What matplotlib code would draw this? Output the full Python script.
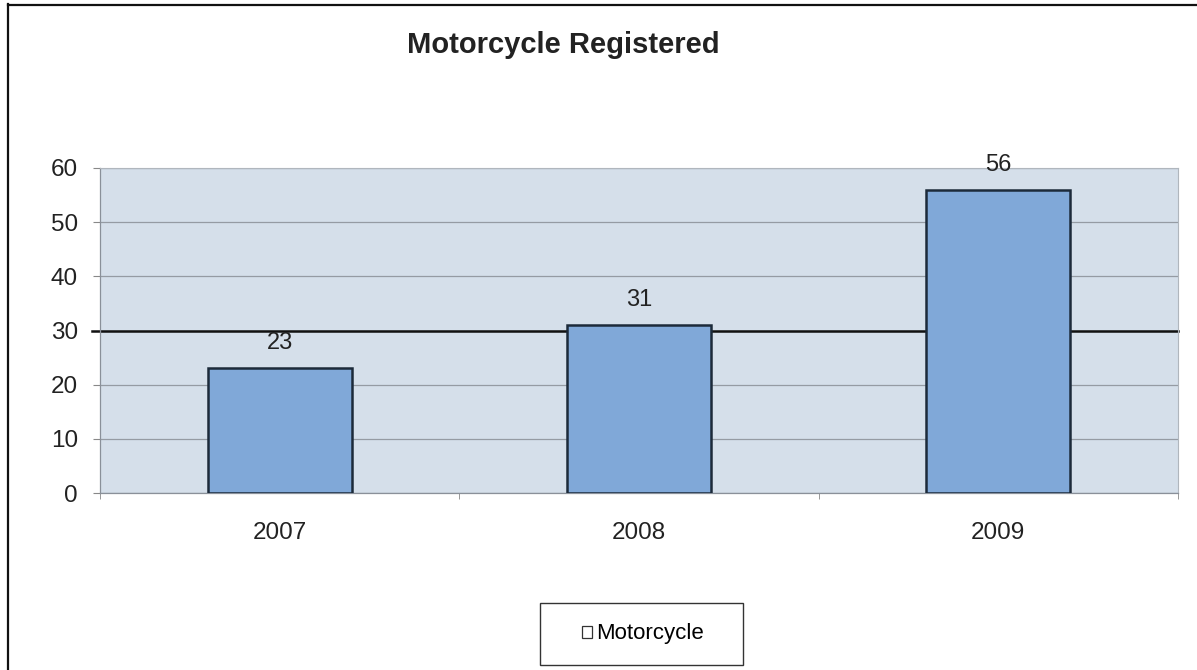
import numpy as np
import matplotlib
matplotlib.use('Agg')
import matplotlib.pyplot as plt
from matplotlib.lines import Line2D
from matplotlib.patches import Patch, Rectangle

years = ['2007', '2008', '2009']
motorcycles = [23, 31, 56]
y_ticks = [0, 10, 20, 30, 40, 50, 60]
reference_level = 30

plt.rcParams['font.family'] = ['Liberation Sans', 'DejaVu Sans']

W, H = 1197, 670
fig = plt.figure(figsize=(W / 100, H / 100), dpi=100)
ax = fig.add_axes([100 / W, 1 - 493 / H, 1078 / W, 325 / H])

x = np.arange(len(years))
ax.set_facecolor('#d5dfea')
ax.bar(x, motorcycles, width=0.4, color='#80a8d8', edgecolor='#1c2a3a', linewidth=1.8, zorder=3)

for xi, v in zip(x, motorcycles):
    ax.text(xi, v + 2.6, str(v), ha='center', va='bottom', fontsize=17, color='#222222')

ax.set_xlim(-0.5, 2.5)
ax.set_ylim(0, 60)
ax.set_yticks(y_ticks)
ax.set_xticks(x)
ax.set_xticklabels(years)
ax.set_xticks([-0.5, 0.5, 1.5, 2.5], minor=True)
ax.tick_params(axis='x', which='major', length=0, pad=21, labelsize=17.5, labelcolor='#222222')
ax.tick_params(axis='x', which='minor', length=4, color='#888888')
ax.tick_params(axis='y', length=5, color='#888888', pad=11, labelsize=17.5, labelcolor='#222222')

ax.yaxis.grid(True, color='#959ba3', linewidth=0.9, zorder=1)
ax.axhline(reference_level, color='#111111', linewidth=1.8, zorder=2, xmin=-0.007, clip_on=False)

for side in ['top', 'right']:
    ax.spines[side].set_color('#b0b6bd')
    ax.spines[side].set_linewidth(0.8)
for side in ['left', 'bottom']:
    ax.spines[side].set_color('#8a9099')
    ax.spines[side].set_linewidth(0.9)

fig.text(563 / W, 1 - 45 / H, 'Motorcycle Registered', ha='center', va='center',
         fontsize=21, fontweight='bold', color='#222222')

# legend: own frame so the box can be wider than tall
fig.add_artist(Rectangle((540 / W, 1 - 665 / H), 203 / W, 62 / H, transform=fig.transFigure,
                         facecolor='white', edgecolor='#333333', linewidth=1.0))
handle = Patch(facecolor='white', edgecolor='#333333', linewidth=0.9)
fig.legend([handle], ['Motorcycle'], loc='center', bbox_to_anchor=(643 / W, 1 - 634 / H),
           fontsize=16, frameon=False, handlelength=0.45, handleheight=0.45,
           handletextpad=0.2, borderaxespad=0)

# outer chart border (left and top visible in the scan)
fig.add_artist(Line2D([8 / W, 8 / W], [0, 1 - 4 / H], color='#111111', linewidth=1.6))
fig.add_artist(Line2D([8 / W, 1], [1 - 5 / H, 1 - 5 / H], color='#111111', linewidth=1.6))

fig.savefig('out.png', dpi=100, facecolor='white')
